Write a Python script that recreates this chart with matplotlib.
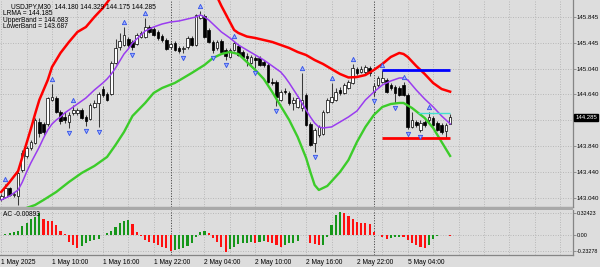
import matplotlib
matplotlib.use('Agg')
import matplotlib.pyplot as plt
import numpy as np
from matplotlib.transforms import blended_transform_factory
from matplotlib.patches import Rectangle

plt.rcParams['font.family'] = ['Liberation Sans', 'DejaVu Sans']

# ---------------- data ----------------
symbol = 'USDJPY,M30'
opens = [143.020, 143.051, 143.190, 143.082, 143.066, 143.469, 143.686, 143.810, 143.888, 144.213,
         144.182, 144.182, 144.554, 144.585, 144.368, 144.291, 144.213, 144.353, 144.353, 144.399,
         144.291, 144.260, 144.446, 144.508, 144.725, 144.647, 144.647, 145.128, 145.376, 145.407,
         145.500, 145.453, 145.422, 145.531, 145.531, 145.686, 145.655, 145.608, 145.546, 145.484,
         145.376, 145.438, 145.360, 145.344, 145.376, 145.515, 145.407, 145.825, 145.856, 145.639,
         145.453, 145.360, 145.469, 145.329, 145.221, 145.329, 145.391, 145.298, 145.236, 145.128,
         145.205, 145.205, 145.143, 145.097, 144.833, 144.833, 144.554, 144.694, 144.663, 144.508,
         144.446, 144.430, 144.632, 144.182, 143.888, 144.012, 144.027, 144.368, 144.523, 144.554,
         144.709, 144.663, 144.740, 144.818, 145.035, 144.988, 144.988, 145.050, 144.678, 144.787,
         144.833, 144.864, 144.787, 144.756, 144.740, 144.787, 144.632, 144.136, 144.213, 144.089,
         144.213, 144.244, 144.275, 144.198, 144.167, 144.074, 144.180]
closes = [143.066, 143.190, 143.082, 143.097, 143.422, 143.732, 143.810, 143.903, 144.244, 144.043,
          144.058, 144.585, 144.601, 144.368, 144.229, 144.244, 144.322, 144.399, 144.399, 144.275,
          144.229, 144.477, 144.508, 144.647, 144.632, 144.554, 145.128, 145.360, 145.469, 145.562,
          145.407, 145.376, 145.562, 145.593, 145.686, 145.608, 145.562, 145.515, 145.484, 145.344,
          145.422, 145.329, 145.314, 145.360, 145.515, 145.407, 145.872, 145.872, 145.531, 145.453,
          145.329, 145.453, 145.298, 145.236, 145.329, 145.438, 145.252, 145.221, 145.205, 145.221,
          145.174, 145.097, 145.097, 144.833, 144.818, 144.601, 144.678, 144.678, 144.508, 144.554,
          144.585, 144.554, 144.167, 143.857, 144.089, 144.136, 144.368, 144.554, 144.601, 144.678,
          144.663, 144.787, 144.833, 145.050, 144.973, 145.035, 145.066, 144.973, 144.771, 144.895,
          144.895, 144.678, 144.740, 144.663, 144.632, 144.632, 144.136, 144.244, 144.167, 144.198,
          144.167, 144.291, 144.167, 144.089, 144.058, 144.167, 144.285]
highs = [143.097, 143.252, 143.206, 143.128, 143.453, 143.779, 143.841, 143.934, 144.275, 144.275,
         144.213, 144.601, 144.802, 144.616, 144.399, 144.368, 144.368, 144.477, 144.430, 144.430,
         144.322, 144.508, 144.554, 144.678, 144.771, 144.678, 145.159, 145.500, 145.593, 145.686,
         145.531, 145.484, 145.593, 145.624, 145.825, 145.717, 145.686, 145.639, 145.577, 145.515,
         145.453, 145.469, 145.391, 145.391, 145.546, 145.546, 145.887, 145.934, 145.887, 145.670,
         145.484, 145.484, 145.500, 145.360, 145.360, 145.469, 145.422, 145.329, 145.283, 145.252,
         145.236, 145.236, 145.174, 145.128, 144.895, 144.864, 144.709, 144.740, 144.694, 144.601,
         144.616, 144.973, 144.663, 144.213, 144.120, 144.167, 144.399, 144.585, 144.818, 144.740,
         144.756, 144.818, 144.864, 145.112, 145.066, 145.081, 145.097, 145.081, 144.818, 144.926,
         145.019, 144.895, 144.818, 144.787, 144.771, 144.833, 144.663, 144.368, 144.244, 144.244,
         144.244, 144.368, 144.306, 144.229, 144.198, 144.198, 144.329]
lows = [142.988, 143.035, 143.066, 143.051, 142.926, 143.438, 143.655, 143.779, 143.872, 143.981,
        144.012, 144.151, 144.539, 144.353, 144.182, 144.198, 144.120, 144.322, 144.322, 144.260,
        144.151, 144.244, 144.430, 144.136, 144.601, 144.539, 144.632, 145.112, 145.329, 145.391,
        145.376, 145.329, 145.407, 145.515, 145.515, 145.593, 145.546, 145.484, 145.453, 145.329,
        145.344, 145.314, 145.283, 145.283, 145.344, 145.391, 145.391, 145.810, 145.515, 145.438,
        145.283, 145.329, 145.283, 145.174, 145.205, 145.314, 145.236, 145.205, 145.081, 145.112,
        145.050, 145.081, 145.066, 144.818, 144.787, 144.461, 144.539, 144.647, 144.477, 144.399,
        144.430, 144.384, 144.151, 143.841, 143.748, 143.981, 144.012, 144.353, 144.508, 144.539,
        144.632, 144.647, 144.725, 144.802, 144.942, 144.973, 144.957, 144.926, 144.616, 144.756,
        144.818, 144.663, 144.709, 144.508, 144.616, 144.616, 144.105, 144.120, 144.136, 144.058,
        144.136, 144.213, 144.151, 144.074, 144.027, 143.965, 144.175]

# Upper band (red) -- part of it is above the visible range
upper_bars = [0, 2, 4, 5, 6, 7, 8, 9, 10, 11, 12, 13, 14, 16, 18, 20, 22, 24, 26, 38,
              51, 52, 53, 54, 55, 56, 58, 60, 62, 64, 66, 68, 70, 72, 74, 76, 78, 80, 82, 84,
              86, 88, 90, 92, 94, 95, 96, 98, 100, 102, 104, 106]
upper_vals = [143.128, 143.283, 143.453, 143.670, 143.887, 144.104, 144.337, 144.554, 144.709, 144.864,
              145.066, 145.174, 145.283, 145.453, 145.608, 145.685, 145.840, 145.980, 146.150, np.nan,
              146.150, 146.011, 145.887, 145.763, 145.639, 145.593, 145.538, 145.515, 145.484, 145.453,
              145.407, 145.360, 145.298, 145.251, 145.174, 145.112, 145.034, 144.957, 144.903, 144.910,
              144.941, 145.019, 145.112, 145.221, 145.283, 145.267, 145.221, 145.081, 144.957, 144.817,
              144.724, 144.683]

# LRMA (purple)
lrma_bars = [0, 2, 4, 5, 6, 7, 8, 9, 10, 11, 12, 13, 14, 15, 16, 18, 20, 22, 24, 25,
             26, 27, 28, 29, 30, 31, 32, 33, 34, 36, 38, 40, 42, 44, 46, 47, 48, 49, 50, 51,
             52, 53, 54, 56, 58, 60, 62, 63, 64, 66, 67, 68, 70, 71, 72, 73, 74, 75, 76, 78,
             80, 82, 84, 86, 88, 90, 92, 94, 95, 96, 98, 100, 102, 104, 106]
lrma_vals = [143.004, 143.066, 143.159, 143.283, 143.438, 143.578, 143.702, 143.826, 143.965, 144.089,
             144.182, 144.244, 144.291, 144.353, 144.399, 144.492, 144.585, 144.709, 144.818, 144.880,
             144.957, 145.050, 145.159, 145.267, 145.344, 145.438, 145.500, 145.562, 145.624, 145.686,
             145.732, 145.763, 145.779, 145.810, 145.841, 145.872, 145.841, 145.794, 145.732, 145.670,
             145.608, 145.562, 145.515, 145.407, 145.329, 145.252, 145.174, 145.128, 145.081, 144.988,
             144.911, 144.818, 144.616, 144.508, 144.399, 144.291, 144.198, 144.136, 144.120, 144.136,
             144.213, 144.291, 144.384, 144.554, 144.678, 144.787, 144.849, 144.895, 144.895, 144.864,
             144.709, 144.570, 144.446, 144.306, 144.185]

# Lower band (green)
lower_bars = [4, 6, 8, 10, 13, 16, 19, 22, 25, 27, 29, 31, 34, 36, 38, 41, 43, 45, 48, 50,
              52, 54, 56, 58, 60, 62, 64, 66, 68, 70, 72, 73, 74, 75, 77, 80, 82, 84, 86, 88,
              90, 92, 94, 95, 97, 100, 102, 104, 106]
lower_vals = [142.818, 142.880, 142.926, 143.004, 143.128, 143.283, 143.422, 143.531, 143.671, 143.857,
              144.058, 144.306, 144.508, 144.663, 144.740, 144.818, 144.895, 144.973, 145.097, 145.205,
              145.267, 145.298, 145.267, 145.143, 145.019, 144.880, 144.678, 144.461, 144.244, 143.981,
              143.655, 143.438, 143.237, 143.159, 143.221, 143.438, 143.624, 143.903, 144.136, 144.322,
              144.446, 144.492, 144.508, 144.508, 144.430, 144.275, 144.120, 143.903, 143.687]

fractal_up = [1, 12, 17, 29, 34, 47, 55, 71, 78, 83, 90, 95, 101]
fractal_down = [4, 16, 20, 23, 31, 43, 50, 53, 60, 65, 74, 88, 93, 96, 99]

# Horizontal trend lines: (price, start bar, end bar, colour, width)
hlines_price = [145.014, 143.960, 144.357]
hlines_start = [90, 90, 98.4]
hlines_end = [106, 106, 106]
hlines_color = ['#0000ff', '#ff0000', '#40e0d0']
hlines_width = [2.0, 2.0, 1.0]

# Accelerator oscillator
ac_vals = [0.005, 0.010, 0.025, 0.040, 0.065, 0.134, 0.184, 0.239, 0.274, 0.334,
           0.234, 0.214, 0.209, 0.149, 0.065, 0.015, -0.100, -0.149, -0.189, -0.164,
           -0.125, -0.085, -0.075, -0.065, 0.005, 0.025, 0.065, 0.125, 0.184, 0.214,
           0.224, 0.164, 0.045, -0.015, -0.075, -0.100, -0.115, -0.149, -0.174, -0.199,
           -0.234, -0.224, -0.214, -0.199, -0.159, -0.115, -0.035, 0.040, 0.065, 0.025,
           -0.050, -0.100, -0.174, -0.249, -0.214, -0.174, -0.134, -0.125, -0.115, -0.105,
           -0.115, -0.100, -0.085, -0.100, -0.125, -0.149, -0.174, -0.149, -0.125, -0.115,
           -0.085, -0.005, 0.002, -0.115, -0.134, -0.149, -0.145, -0.035, 0.149, 0.299,
           0.349, 0.334, 0.284, 0.234, 0.199, 0.184, 0.174, 0.164, 0.050, -0.002,
           -0.025, -0.065, -0.050, -0.035, -0.025, -0.035, -0.075, -0.125, -0.149, -0.174,
           -0.199, -0.149, -0.065, -0.015, 0.005, -0.002, -0.00893]

price_ticks = [145.845, 145.445, 145.040, 144.640, 144.240, 143.840, 143.440, 143.040]
price_tick_labels = ['145.845', '145.445', '145.040', '144.640', '', '143.840', '143.440', '143.040']
ac_ticks = [0.32423, 0.0, -0.23278]
ac_tick_labels = ['0.32423', '0.00', '-0.23278']
time_tick_bars = [0, 12, 24, 36, 48, 60, 72, 84, 96]
time_tick_labels = ['1 May 2025', '1 May 10:00', '1 May 16:00', '1 May 22:00', '2 May 04:00',
                    '2 May 10:00', '2 May 16:00', '2 May 22:00', '5 May 04:00']
day_separators = [40, 88]

# ---------------- figure ----------------
BG = '#dddddd'
GRID = '#b4b4b4'
SPINE = '#858585'
FS = 4.8
W, H = 600.0, 267.0


def frame(x0, y0, x1, y1):
    return [x0 / W, 1 - y1 / H, (x1 - x0) / W, (y1 - y0) / H]


fig = plt.figure(figsize=(6, 2.67), dpi=100)
fig.patch.set_facecolor(BG)
ax = fig.add_axes(frame(0, 0, 573, 207))
ac_ax = fig.add_axes(frame(0, 210, 573, 254.5), sharex=ax)
fig.patches.append(Rectangle((0, 1 - 210 / H), 573 / W, 3 / H, transform=fig.transFigure,
                             facecolor='#a9a9a9', edgecolor='none', zorder=10))

o = np.array(opens); c = np.array(closes); h = np.array(highs); l = np.array(lows)
x = np.arange(len(o))

for a in (ax, ac_ax):
    a.set_facecolor(BG)
    for s in ('left', 'top'):
        a.spines[s].set_visible(False)
    for s in ('right', 'bottom'):
        a.spines[s].set_color(SPINE)
        a.spines[s].set_linewidth(0.9)
    a.yaxis.tick_right()
    a.tick_params(axis='y', direction='out', length=2.0, width=0.6, color=SPINE,
                  pad=0.8, labelsize=4.4, labelcolor='black')
    a.set_xticks(np.arange(0, 133, 6))
    a.grid(True, color=GRID, linestyle=(0, (1.2, 1.8)), linewidth=0.6)
    a.set_axisbelow(True)
    for d in day_separators:
        a.axvline(d, color='#4a4a4a', linestyle=(0, (1.2, 1.5)), linewidth=0.7, zorder=1)

ax.set_xlim(-1.2 / 4.235, (573 - 1.2) / 4.235)
ax.set_ylim(142.895, 146.104)
ax.set_yticks(price_ticks)
ax.set_yticklabels(price_tick_labels)
ax.tick_params(axis='x', bottom=False, labelbottom=False)

# candles
ax.vlines(x, l, h, color='#3a3a3a', linewidth=0.75, zorder=2)
bull = c >= o
ax.bar(x, np.maximum(np.abs(c - o), 0.006), bottom=np.minimum(o, c), width=0.62,
       color=np.where(bull, 'white', 'black'), edgecolor='black', linewidth=0.5, zorder=3)

# indicator lines
ax.plot(upper_bars, upper_vals, color='#ff0000', linewidth=1.8, zorder=4)
ax.plot(lrma_bars, lrma_vals, color='#9a3cf0', linewidth=1.1, zorder=4)
ax.plot(lower_bars, lower_vals, color='#3ccc2a', linewidth=1.7, zorder=4)

for p, s, e, col, lw in zip(hlines_price, hlines_start, hlines_end, hlines_color, hlines_width):
    ax.hlines(p, s, e, color=col, linewidth=lw, zorder=4)

# fractals
fu = np.array(fractal_up); fd = np.array(fractal_down)
ax.plot(fu, h[fu] + 0.08, ls='none', marker='^', ms=3.1, mfc='#9fb0ff', mec='#3050e8',
        mew=0.6, zorder=5)
ax.plot(fd, l[fd] - 0.08, ls='none', marker='v', ms=3.1, mfc='#9fb0ff', mec='#3050e8',
        mew=0.6, zorder=5)

# current price box
tr = blended_transform_factory(ax.transAxes, ax.transData)
ax.text(1.004, c[-1], f'{c[-1]:.3f}', transform=tr, color='white', fontsize=4.3,
        va='center', ha='left', zorder=6,
        bbox=dict(boxstyle='square,pad=0.18', fc='black', ec='black'))

# AC histogram
acv = np.array(ac_vals)
ac_col = ['#16961a' if i == 0 or acv[i] > acv[i - 1] else '#ff1010' for i in range(len(acv))]
ac_ax.bar(x, acv, width=0.5, color=ac_col, zorder=3)
ac_ax.set_ylim(-0.2913, 0.3735)
ac_ax.set_yticks(ac_ticks)
ac_ax.set_yticklabels(ac_tick_labels)
ac_ax.tick_params(axis='y', labelsize=3.9)

ac_ax.set_xticks(np.arange(0, 133, 6))
lbls = []
for b in np.arange(0, 133, 6):
    lbls.append(time_tick_labels[time_tick_bars.index(b)] if b in time_tick_bars else '')
ac_ax.set_xticklabels(lbls)
ac_ax.tick_params(axis='x', length=0, pad=3.2, labelsize=FS, labelcolor='black')
for t in ac_ax.get_xticklabels():
    t.set_ha('left')

# texts
fig.text(11 / W, 1 - 7 / H,
         f'{symbol}  {o[-1]:.3f} {h[-1]:.3f} {l[-1]:.3f} {c[-1]:.3f}',
         fontsize=FS, va='center', ha='left')
fig.text(3 / W, 1 - 13.5 / H, f'LRMA = {lrma_vals[-1]:.3f}', fontsize=FS, va='center', ha='left')
fig.text(3 / W, 1 - 20 / H, f'UpperBand = {upper_vals[-1]:.3f}', fontsize=FS, va='center', ha='left')
fig.text(3 / W, 1 - 26.5 / H, f'LowerBand = {lower_vals[-1]:.3f}', fontsize=FS, va='center', ha='left')
fig.text(3 / W, 1 - 215 / H, f'AC {ac_vals[-1]:.5f}', fontsize=FS, va='center', ha='left')

fig.savefig('out.png', dpi=100, facecolor=BG)
